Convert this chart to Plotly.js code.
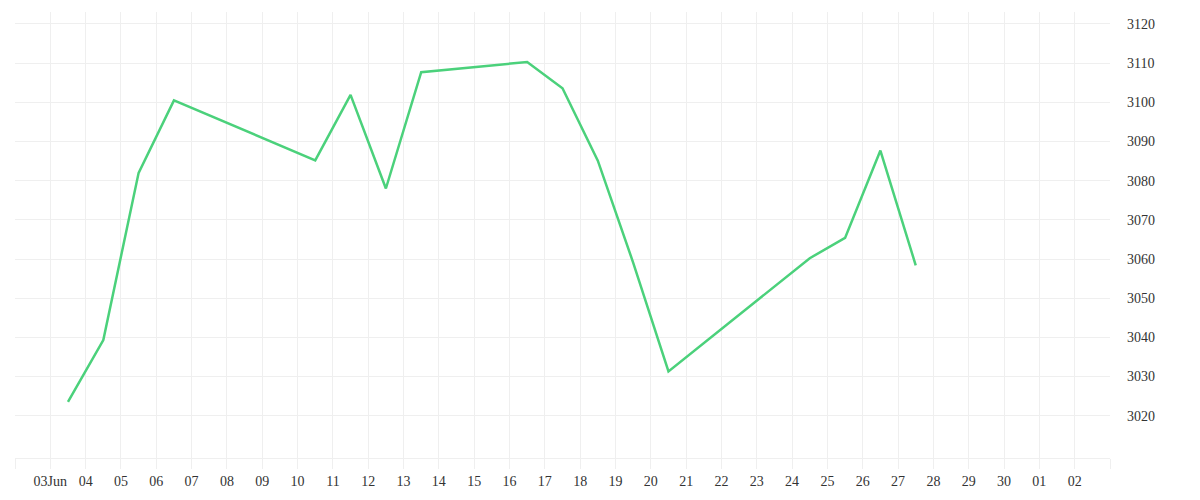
<!DOCTYPE html>
<html>
<head>
<meta charset="utf-8">
<script src="https://cdn.plot.ly/plotly-3.0.1.min.js"></script>
<style>
  html, body { margin: 0; padding: 0; background: #fff; }
  #chart { width: 1200px; height: 500px; }
</style>
</head>
<body>
<div id="chart"></div>
<script>
// Data (timestamps at midday of each trading day)
const dates = [
  "2025-06-03 12:00", "2025-06-04 12:00", "2025-06-05 12:00", "2025-06-06 12:00",
  "2025-06-10 12:00", "2025-06-11 12:00", "2025-06-12 12:00", "2025-06-13 12:00",
  "2025-06-16 12:00", "2025-06-17 12:00", "2025-06-18 12:00", "2025-06-19 12:00",
  "2025-06-20 12:00", "2025-06-24 12:00", "2025-06-25 12:00", "2025-06-26 12:00",
  "2025-06-27 12:00"
];
const values = [
  3023.5, 3039.3, 3082.0, 3100.5,
  3085.2, 3101.9, 3078.0, 3107.7,
  3110.3, 3103.6, 3085.1, 3059.1,
  3031.3, 3060.2, 3065.4, 3087.7,
  3058.4
];

// X tick dates and labels
const xTickVals = [
  "2025-06-02", "2025-06-03", "2025-06-04", "2025-06-05", "2025-06-06", "2025-06-07",
  "2025-06-08", "2025-06-09", "2025-06-10", "2025-06-11", "2025-06-12", "2025-06-13",
  "2025-06-14", "2025-06-15", "2025-06-16", "2025-06-17", "2025-06-18", "2025-06-19",
  "2025-06-20", "2025-06-21", "2025-06-22", "2025-06-23", "2025-06-24", "2025-06-25",
  "2025-06-26", "2025-06-27", "2025-06-28", "2025-06-29", "2025-06-30", "2025-07-01",
  "2025-07-02", "2025-07-03"
];
const xTickText = [
  "", "03Jun", "04", "05", "06", "07", "08", "09", "10", "11", "12", "13",
  "14", "15", "16", "17", "18", "19", "20", "21", "22", "23", "24", "25",
  "26", "27", "28", "29", "30", "01", "02", ""
];
const yTickVals = [3020, 3030, 3040, 3050, 3060, 3070, 3080, 3090, 3100, 3110, 3120];

const gridColor = "#efefef";
const fontFamily = "'Liberation Serif', 'DejaVu Serif', serif";

const trace = {
  x: dates,
  y: values,
  type: "scatter",
  mode: "lines",
  line: { color: "#4bd17b", width: 2.5 },
  hoverinfo: "x+y"
};

const layout = {
  width: 1200,
  height: 500,
  margin: { l: 15, r: 90, t: 12, b: 42 },
  paper_bgcolor: "#ffffff",
  plot_bgcolor: "#ffffff",
  showlegend: false,
  font: { family: fontFamily, size: 14, color: "#333333" },
  xaxis: {
    type: "date",
    range: ["2025-06-02", "2025-07-03"],
    tickmode: "array",
    tickvals: xTickVals,
    ticktext: xTickText,
    showgrid: true,
    gridcolor: gridColor,
    gridwidth: 1,
    showline: true,
    linecolor: gridColor,
    linewidth: 1,
    ticks: "outside",
    ticklen: 10,
    tickcolor: gridColor,
    tickwidth: 1,
    zeroline: false,
    tickfont: { family: fontFamily, size: 14, color: "#333333" }
  },
  yaxis: {
    side: "right",
    range: [3009.2, 3123.06],
    tickmode: "array",
    tickvals: yTickVals,
    showgrid: true,
    gridcolor: gridColor,
    gridwidth: 1,
    showline: false,
    ticks: "",
    zeroline: false,
    ticklabelstandoff: 16,
    tickfont: { family: fontFamily, size: 14, color: "#333333" }
  }
};

Plotly.newPlot("chart", [trace], layout, { displayModeBar: false, staticPlot: false });
</script>
</body>
</html>
